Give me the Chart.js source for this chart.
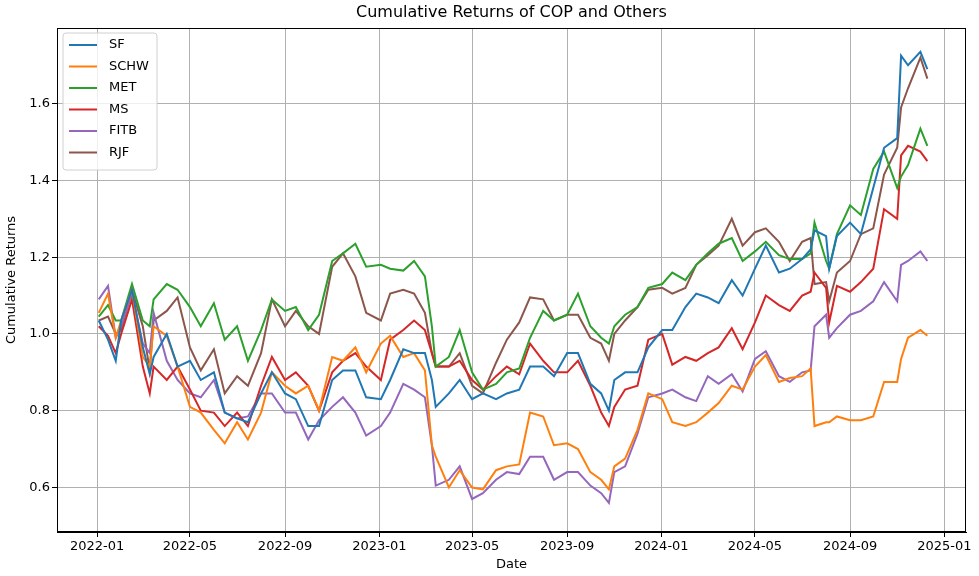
<!DOCTYPE html>
<html>
<head>
<meta charset="utf-8">
<script src="https://cdn.jsdelivr.net/npm/chart.js@4.4.1/dist/chart.umd.min.js"></script>
<style>
  body { margin: 0; background: #fff; }
  #wrap { width: 979px; height: 576px; }
</style>
</head>
<body>
<div id="wrap"><canvas id="returnsChart" width="979" height="576"></canvas></div>
<script>
// ---- data (roughly twice a month) ----
const dates = [
  '2022-01-03','2022-01-15','2022-01-25','2022-02-01','2022-02-15','2022-03-01','2022-03-10','2022-03-15','2022-04-01','2022-04-15',
  '2022-05-01','2022-05-15','2022-06-01','2022-06-15','2022-07-01','2022-07-15','2022-08-01','2022-08-15','2022-09-01','2022-09-15',
  '2022-10-01','2022-10-15','2022-11-01','2022-11-15','2022-12-01','2022-12-15',
  '2023-01-03','2023-01-15','2023-02-01','2023-02-15','2023-03-01','2023-03-10','2023-03-15','2023-04-01','2023-04-15','2023-05-01',
  '2023-05-15','2023-06-01','2023-06-15','2023-07-01','2023-07-15','2023-08-01','2023-08-15','2023-09-01','2023-09-15','2023-10-01',
  '2023-10-15','2023-10-25','2023-11-01','2023-11-15','2023-12-01','2023-12-15',
  '2024-01-02','2024-01-15','2024-02-01','2024-02-15','2024-03-01','2024-03-15','2024-04-01','2024-04-15','2024-05-01','2024-05-15',
  '2024-06-01','2024-06-15','2024-07-01','2024-07-12','2024-07-17','2024-08-01','2024-08-05','2024-08-15','2024-09-01','2024-09-15',
  '2024-10-01','2024-10-15','2024-11-01','2024-11-06','2024-11-15','2024-12-01','2024-12-10'
];

const sf = [
  1.035,0.985,0.93,1.035,1.115,0.965,0.895,0.94,1.0,0.915,0.93,0.88,0.9,0.795,0.78,0.77,0.845,0.9,0.845,0.83,0.76,0.76,0.88,0.905,0.905,0.835,
  0.83,0.88,0.96,0.95,0.95,0.88,0.81,0.845,0.88,0.83,0.845,0.83,0.845,0.855,0.915,0.915,0.89,0.95,0.95,0.87,0.845,0.8,0.88,0.9,0.9,0.965,
  1.01,1.01,1.07,1.105,1.095,1.08,1.14,1.10,1.17,1.23,1.16,1.17,1.195,1.22,1.27,1.255,1.17,1.255,1.29,1.26,1.38,1.485,1.51,1.725,1.70,1.735,1.69
];
const schw = [
  1.055,1.105,0.99,1.035,1.115,0.94,0.915,1.02,0.995,0.915,0.81,0.795,0.75,0.715,0.77,0.725,0.795,0.9,0.865,0.845,0.865,0.8,0.94,0.93,0.965,0.9,
  0.975,0.995,0.94,0.95,0.905,0.71,0.68,0.6,0.645,0.6,0.595,0.645,0.655,0.66,0.795,0.785,0.71,0.715,0.70,0.64,0.62,0.595,0.655,0.675,0.75,0.845,
  0.83,0.77,0.76,0.77,0.795,0.82,0.865,0.855,0.915,0.945,0.875,0.885,0.89,0.91,0.76,0.77,0.77,0.785,0.775,0.775,0.785,0.875,0.875,0.935,0.99,1.01,0.995
];
const met = [
  1.045,1.075,1.035,1.035,1.13,1.035,1.02,1.09,1.13,1.115,1.07,1.02,1.08,0.985,1.02,0.93,1.01,1.09,1.06,1.07,1.01,1.05,1.19,1.21,1.235,1.175,
  1.18,1.17,1.165,1.19,1.15,1.02,0.915,0.94,1.01,0.9,0.855,0.87,0.9,0.91,0.99,1.06,1.035,1.05,1.105,1.02,0.99,0.975,1.02,1.05,1.07,1.12,
  1.13,1.16,1.14,1.18,1.21,1.235,1.25,1.19,1.215,1.24,1.205,1.195,1.195,1.21,1.29,1.19,1.17,1.26,1.335,1.31,1.43,1.475,1.38,1.41,1.44,1.535,1.49
];
const ms = [
  1.02,0.995,0.95,1.0,1.09,0.915,0.845,0.915,0.88,0.915,0.855,0.8,0.795,0.76,0.795,0.76,0.865,0.94,0.88,0.9,0.865,0.8,0.9,0.93,0.95,0.915,
  0.88,0.985,1.01,1.035,1.01,0.95,0.915,0.915,0.93,0.88,0.855,0.89,0.915,0.895,0.975,0.93,0.9,0.9,0.93,0.865,0.795,0.76,0.81,0.855,0.865,0.985,
  1.0,0.92,0.94,0.93,0.95,0.965,1.015,0.96,1.03,1.10,1.075,1.06,1.10,1.11,1.16,1.12,1.03,1.125,1.11,1.135,1.17,1.325,1.30,1.465,1.49,1.475,1.45
];
const fitb = [
  1.09,1.125,0.99,1.02,1.105,0.975,0.95,1.055,0.93,0.88,0.845,0.835,0.88,0.795,0.78,0.785,0.845,0.845,0.795,0.795,0.725,0.775,0.81,0.835,0.795,0.735,
  0.76,0.795,0.87,0.855,0.835,0.71,0.605,0.62,0.655,0.57,0.585,0.62,0.64,0.635,0.68,0.68,0.62,0.64,0.64,0.605,0.585,0.56,0.64,0.655,0.74,0.835,
  0.845,0.855,0.835,0.825,0.89,0.87,0.895,0.85,0.935,0.955,0.89,0.875,0.90,0.905,1.02,1.05,0.99,1.015,1.05,1.06,1.085,1.135,1.085,1.18,1.19,1.215,1.19
];
const rjf = [
  1.035,1.045,1.0,1.01,1.115,1.02,0.905,1.035,1.06,1.095,0.965,0.905,0.96,0.845,0.89,0.865,0.95,1.09,1.02,1.06,1.02,1.0,1.175,1.21,1.15,1.055,
  1.035,1.105,1.115,1.105,1.055,0.95,0.915,0.915,0.95,0.865,0.845,0.925,0.985,1.03,1.095,1.09,1.035,1.05,1.05,0.99,0.975,0.93,1.0,1.035,1.07,1.115,
  1.12,1.105,1.12,1.18,1.205,1.23,1.30,1.23,1.265,1.275,1.24,1.19,1.24,1.25,1.13,1.135,1.085,1.16,1.19,1.26,1.275,1.415,1.485,1.59,1.64,1.72,1.665
];

const seriesNames = ['SF', 'SCHW', 'MET', 'MS', 'FITB', 'RJF'];
const seriesColors = ['#1f77b4', '#ff7f0e', '#2ca02c', '#d62728', '#9467bd', '#8c564b'];
const xTickLabels = ['2022-01','2022-05','2022-09','2023-01','2023-05','2023-09','2024-01','2024-05','2024-09','2025-01'];
const yTickValues = [0.6, 0.8, 1.0, 1.2, 1.4, 1.6];

// days since epoch, so a plain linear axis works without a date adapter
const toDay = (s) => Date.UTC(+s.slice(0, 4), +s.slice(5, 7) - 1, +(s.slice(8, 10) || 1)) / 86400000;
const fromDay = (d) => {
  const dt = new Date(d * 86400000);
  return dt.getUTCFullYear() + '-' + String(dt.getUTCMonth() + 1).padStart(2, '0');
};

const allSeries = [sf, schw, met, ms, fitb, rjf];
const datasets = allSeries.map((vals, i) => ({
  label: seriesNames[i],
  data: vals.map((v, j) => ({ x: toDay(dates[j]), y: v })),
  borderColor: seriesColors[i],
  backgroundColor: seriesColors[i],
  borderWidth: 2,
  pointRadius: 0,
  tension: 0
}));

const FONT = 'DejaVu Sans';

// title, frame and in-plot legend like matplotlib
const mplDecor = {
  id: 'mplDecor',
  afterDraw(chart) {
    const { ctx, chartArea: a } = chart;
    ctx.save();
    ctx.strokeStyle = '#000';
    ctx.lineWidth = 1;
    ctx.strokeRect(a.left + 0.5, a.top + 0.5, a.right - a.left - 1, a.bottom - a.top - 1);

    ctx.fillStyle = '#000';
    ctx.font = '16px "' + FONT + '"';
    ctx.textAlign = 'center';
    ctx.textBaseline = 'middle';
    ctx.fillText('Cumulative Returns of COP and Others', (a.left + a.right) / 2, 13);

    // legend box
    const lx = a.left + 6, ly = a.top + 5, lw = 94, rowH = 21.5;
    const lh = rowH * seriesNames.length + 8;
    ctx.fillStyle = 'rgba(255,255,255,0.8)';
    ctx.strokeStyle = '#d0d0d0';
    ctx.beginPath();
    ctx.roundRect(lx, ly, lw, lh, 3);
    ctx.fill();
    ctx.stroke();
    ctx.font = '13px "' + FONT + '"';
    ctx.textAlign = 'left';
    seriesNames.forEach((name, i) => {
      const y = ly + 12 + i * rowH;
      ctx.strokeStyle = seriesColors[i];
      ctx.lineWidth = 2;
      ctx.beginPath();
      ctx.moveTo(lx + 6, y);
      ctx.lineTo(lx + 34, y);
      ctx.stroke();
      ctx.fillStyle = '#000';
      ctx.fillText(name, lx + 46, y);
    });
    ctx.restore();
  }
};

new Chart(document.getElementById('returnsChart'), {
  type: 'line',
  data: { datasets },
  options: {
    responsive: false,
    animation: false,
    devicePixelRatio: 1,
    layout: { padding: { top: 28, right: 13, left: 0, bottom: 0 } },
    plugins: {
      legend: { display: false },
      tooltip: { enabled: false }
    },
    scales: {
      x: {
        type: 'linear',
        min: toDay('2021-11-10'),
        max: toDay('2025-01-29'),
        afterBuildTicks(scale) {
          scale.ticks = xTickLabels.map(t => ({ value: toDay(t) }));
        },
        afterFit(scale) { scale.height = 44; },
        grid: { color: '#b0b0b0', lineWidth: 1, tickColor: '#000', tickLength: 5 },
        border: { color: '#000' },
        ticks: {
          color: '#000',
          font: { family: FONT, size: 13 },
          maxRotation: 0,
          padding: 2,
          callback: (v) => fromDay(v)
        },
        title: { display: true, text: 'Date', color: '#000', font: { family: FONT, size: 13 }, padding: { top: 0 } }
      },
      y: {
        min: 0.484,
        max: 1.797,
        afterBuildTicks(scale) {
          scale.ticks = yTickValues.map(v => ({ value: v }));
        },
        afterFit(scale) { scale.width = 57; },
        grid: { color: '#b0b0b0', lineWidth: 1, tickColor: '#000', tickLength: 5 },
        border: { color: '#000' },
        ticks: {
          color: '#000',
          font: { family: FONT, size: 13 },
          padding: 2,
          callback: (v) => v.toFixed(1)
        },
        title: { display: true, text: 'Cumulative Returns', color: '#000', font: { family: FONT, size: 13 }, padding: { bottom: 2 } }
      }
    }
  },
  plugins: [mplDecor]
});
</script>
</body>
</html>
